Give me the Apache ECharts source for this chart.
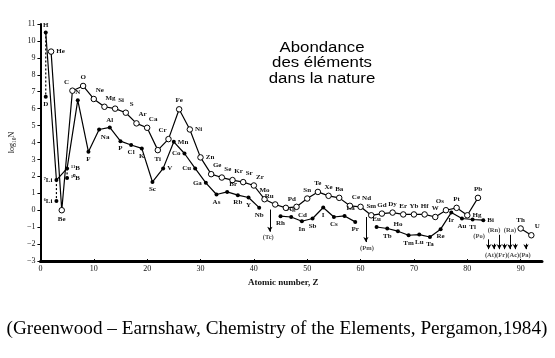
<!DOCTYPE html>
<html><head><meta charset="utf-8">
<script src="https://cdn.jsdelivr.net/npm/echarts@6/dist/echarts.min.js"></script>
<style>html,body{margin:0;padding:0;background:#fff}#c{width:555px;height:358px}</style>
</head><body><div id="c"></div>
<script>
// even-Z elements (open circles)
const evenZ = [2,4,6,8,10,12,14,16,18,20,22,24,26,28,30,32,34,36,38,40,42,44,46,48,50,52,54,56,58,60,62,64,66,68,70,72,74,76,78,80,82];
const evenV = [9.37,0.0,7.06,7.34,6.57,6.11,6.0,5.76,5.13,4.87,3.55,4.2,5.96,4.77,3.12,2.13,1.93,1.78,1.66,1.46,0.65,0.34,0.14,0.2,0.69,1.08,0.85,0.73,0.26,0.2,-0.3,-0.2,-0.14,-0.25,-0.25,-0.25,-0.4,0.0,0.14,-0.3,0.73];
const evenNames = ['He','Be','C','O','Ne','Mg','Si','S','Ar','Ca','Ti','Cr','Fe','Ni','Zn','Ge','Se','Kr','Sr','Zr','Mo','Ru','Pd','Cd','Sn','Te','Xe','Ba','Ce','Nd','Sm','Gd','Dy','Er','Yb','Hf','W','Os','Pt','Hg','Pb'];
// odd-Z elements (filled circles); null = no stable element (gap)
const oddZ = [1,3,5,7,9,11,13,15,17,19,21,23,25,27,29,31,33,35,37,39,41,43,45,47,49,51,53,55,57,59,61,63,65,67,69,71,73,75,77,79,81,83];
const oddV = [10.5,1.78,2.47,6.5,3.45,4.77,4.89,4.08,3.85,3.65,1.67,2.47,4.04,3.35,2.47,1.62,0.93,1.08,0.89,0.75,0.15,null,-0.35,-0.4,-0.65,-0.49,0.16,-0.4,-0.34,-0.69,null,-0.99,-1.08,-1.24,-1.48,-1.44,-1.58,-1.12,-0.14,-0.49,-0.55,-0.59];
const oddNames = ['H','⁷Li','¹¹B','N','F','Na','Al','P','Cl','K','Sc','V','Mn','Co','Cu','Ga','As','Br','Rb','Y','Nb','','Rh','Ag','In','Sb','I','Cs','La','Pr','','Eu','Tb','Ho','Tm','Lu','Ta','Re','Ir','Au','Tl','Bi'];
// isotopes (dashed)
const isoZ = [1,3,5];
const isoMainV = [10.5,1.78,2.47];
const isoV = [6.7,0.55,1.9];
const isoNames = ['D','⁶Li','¹⁰B'];
// heavy elements
const heavyZ = [90,92];
const heavyV = [-1.08,-1.48];
const heavyNames = ['Th','U'];
// arrows for unstable elements
const arrowZ = [43,61,84,85,86,87,88,89,91];
const arrowTop = [0.04,-0.4,-1.72,-1.98,-1.45,-1.98,-1.45,-1.98,-1.98];
const arrowBottom = [-1.27,-1.88,-2.3,-2.3,-2.3,-2.3,-2.3,-2.3,-2.3];
// annotation texts
const annZ = [42.7,61.2,82.2,85.0,88.0,87.6];
const annV = [-1.6,-2.25,-1.55,-1.18,-1.18,-2.68];
const annText = ['(Tc)','(Pm)','(Po)','(Rn)','(Ra)','(At)(Fr)(Ac)(Pa)'];

const labelPos = {
  He:'r',Be:'b',C:'tl',O:'t',Ne:'tr',Mg:'tr',Si:'tr',S:'tr',Ar:'tr',Ca:'tr',Ti:'b',Cr:'tl',Fe:'t',Ni:'r',Zn:'r',
  Ge:'tr',Se:'tr',Kr:'tr',Sr:'tr',Zr:'tr',Mo:'t',Ru:'tl',Pd:'tr',Cd:'br',Sn:'t',Te:'t',Xe:'t',Ba:'t',Ce:'tr',Nd:'tr',
  Sm:'t',Gd:'t',Dy:'t',Er:'t',Yb:'t',Hf:'t',W:'t',Os:'tl',Pt:'t',Hg:'r',Pb:'t',
  H:'t','⁷Li':'l','¹¹B':'r',N:'t',F:'b',Na:'br',Al:'t',P:'b',Cl:'b',K:'b',Sc:'b',V:'r',Mn:'r',Co:'l',Cu:'l',Ga:'l',
  As:'b',Br:'tr',Rb:'b',Y:'b',Nb:'b',Rh:'b',Ag:'t',In:'b',Sb:'b',I:'b',Cs:'b',La:'tr',Pr:'b',
  Eu:'t',Tb:'b',Ho:'t',Tm:'b',Lu:'b',Ta:'b',Re:'b',Ir:'b',Au:'b',Tl:'b',Bi:'r',
  D:'b','⁶Li':'l','¹⁰B':'r',Th:'t',U:'tr'
};
const LBL = {fontFamily:'Liberation Serif',fontSize:7,color:'#111',fontWeight:'bold'};
function lab(name){
  const p = labelPos[name] || 't';
  const m = {t:['top',[0,0]],b:['bottom',[0,0]],l:['left',[0,0]],r:['right',[0,0]],tr:['top',[6,0]],tl:['top',[-6,0]],br:['bottom',[6,0]]}[p];
  return Object.assign({show:true,position:m[0],offset:m[1],distance:2,formatter:name},LBL);
}
function pts(zs,vs,names){
  return zs.map((z,i)=> vs[i]===null ? [z,'-'] : {value:[z,vs[i]],label:lab(names[i])});
}
const openStyle = {color:'#fff',borderColor:'#000',borderWidth:1};
const series = [];
series.push({type:'line',data:pts(evenZ,evenV,evenNames),symbol:'circle',symbolSize:5.5,
  lineStyle:{color:'#000',width:1.2},itemStyle:openStyle,z:3});
series.push({type:'line',data:pts(oddZ,oddV,oddNames),symbol:'circle',symbolSize:4,connectNulls:false,
  lineStyle:{color:'#000',width:1.2},itemStyle:{color:'#000'},z:3});
isoZ.forEach((z,i)=>{
  series.push({type:'line',data:[{value:[z,isoMainV[i]],symbol:'none'},{value:[z,isoV[i]],symbol:'circle',label:lab(isoNames[i])}],
    symbolSize:4,lineStyle:{color:'#000',width:1.2,type:[2,2]},itemStyle:{color:'#000'},z:2});
});
series.push({type:'line',data:pts(heavyZ,heavyV,heavyNames),symbol:'circle',symbolSize:5.5,
  lineStyle:{color:'#000',width:1.2},itemStyle:openStyle,z:3,
  markLine:{silent:true,symbol:['none','arrow'],symbolSize:[4,5],label:{show:false},
    lineStyle:{color:'#000',width:1,type:'solid'},
    data:arrowZ.map((z,i)=>[{coord:[z,arrowTop[i]]},{coord:[z,arrowBottom[i]]}])}});
series.push({type:'scatter',symbolSize:0,data:annZ.map((z,i)=>({value:[z,annV[i]],label:Object.assign({show:true,position:'inside',formatter:annText[i]},LBL,{fontSize:6.5})})),z:4});

const chart = echarts.init(document.getElementById('c'),null,{renderer:'canvas'});
chart.setOption({
  animation:false,
  backgroundColor:'#fff',
  grid:{left:38,right:13,top:24,bottom:97,containLabel:false},
  xAxis:{type:'value',min:0,max:94,interval:10,
    name:'Atomic number, Z',nameLocation:'middle',nameGap:12,
    nameTextStyle:{fontFamily:'Liberation Serif',fontSize:9,fontWeight:'bold',color:'#111',padding:[0,16,0,0]},
    axisLine:{onZero:false,lineStyle:{color:'#000',width:3}},axisTick:{show:true,inside:true,length:2,lineStyle:{color:'#000'}},
    axisLabel:{fontFamily:'Liberation Serif',fontSize:8,color:'#111',margin:4,showMaxLabel:false},splitLine:{show:false}},
  yAxis:{type:'value',min:-3,max:11,interval:1,
    name:'log₁₀N',nameLocation:'middle',nameGap:20,nameRotate:90,
    nameTextStyle:{fontFamily:'Liberation Serif',fontSize:8,color:'#111'},
    axisLine:{show:true,onZero:false,lineStyle:{color:'#000',width:2}},axisTick:{show:true,length:3,lineStyle:{color:'#000'}},
    axisLabel:{fontFamily:'Liberation Serif',fontSize:8,color:'#111',margin:5,formatter:v=>String(v).replace('-','−')},
    splitLine:{show:false}},
  graphic:[
    {type:'text',x:322,y:40,scaleX:1.2,style:{text:'Abondance\ndes éléments\ndans la nature',textAlign:'center',
      font:'14px "Liberation Sans"',lineHeight:15.5,fill:'#000'}},
    {type:'text',x:277,y:319,style:{text:'(Greenwood – Earnshaw, Chemistry of the Elements, Pergamon,1984)',textAlign:'center',
      font:'19.2px "Liberation Serif"',fill:'#000'}}
  ],
  series:series
});
</script></body></html>
